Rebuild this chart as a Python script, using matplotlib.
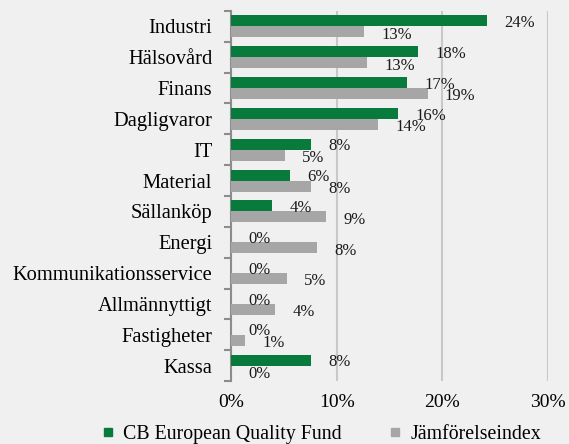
import matplotlib.pyplot as plt
import numpy as np
from matplotlib.lines import Line2D

plt.rcParams['font.family'] = ['Liberation Serif', 'DejaVu Serif']

# Sector weights (%)
sectors = ['Industri', 'Hälsovård', 'Finans', 'Dagligvaror', 'IT', 'Material',
           'Sällanköp', 'Energi', 'Kommunikationsservice', 'Allmännyttigt',
           'Fastigheter', 'Kassa']
fund = [24.2, 17.7, 16.7, 15.8, 7.6, 5.6, 3.9, 0.0, 0.0, 0.0, 0.0, 7.6]
index = [12.6, 12.9, 18.6, 13.9, 5.1, 7.6, 9.0, 8.1, 5.3, 4.2, 1.3, 0.0]
xticks = [0, 10, 20, 30]

green = '#077a3c'
grey = '#a6a6a6'
bg = '#f0f0f0'

fig = plt.figure(figsize=(5.69, 4.44), dpi=100, facecolor=bg)
ax = fig.add_axes([231 / 569, 1 - 381 / 444, (548 - 231) / 569, (381 - 11) / 444])
ax.set_facecolor(bg)

y = np.arange(len(sectors))
h = 0.355
ax.barh(y - h / 2, fund, height=h, color=green, zorder=3)
ax.barh(y + h / 2, index, height=h, color=grey, zorder=3)

# data labels
for i, (f, g) in enumerate(zip(fund, index)):
    ax.annotate(f'{f:.0f}%', (f, i - h / 2), xytext=(12.5, -1.5), textcoords='offset points',
                ha='left', va='center', fontsize=12, color='#1a1a1a')
    ax.annotate(f'{g:.0f}%', (g, i + h / 2), xytext=(12.5, -2), textcoords='offset points',
                ha='left', va='center', fontsize=12, color='#1a1a1a')

ax.set_xlim(0, 30)
ax.set_ylim(len(sectors) - 0.5, -0.5)
ax.set_xticks(xticks)
ax.set_xticklabels([f'{t}%' for t in xticks], fontsize=14)
ax.tick_params(axis='x', length=0, pad=9)
ax.grid(axis='x', color='#c8c8c8', linewidth=1.5, zorder=0)

# y ticks at category boundaries, labels at centres
ax.set_yticks(np.arange(-0.5, len(sectors)), labels=[])
ax.set_yticks(y, labels=sectors, minor=True)
ax.tick_params(axis='y', which='major', length=5, width=1.5, color='#8c8c8c', direction='out')
ax.tick_params(axis='y', which='minor', length=0, pad=13.5, labelsize=14.8)

for s in ['top', 'right', 'bottom']:
    ax.spines[s].set_visible(False)
ax.spines['left'].set_color('#8c8c8c')
ax.spines['left'].set_linewidth(1.5)

handles = [Line2D([], [], linestyle='none', marker='s', markersize=6, color=green),
           Line2D([], [], linestyle='none', marker='s', markersize=6, color=grey)]
fig.legend(handles, ['CB European Quality Fund', 'Jämförelseindex'], loc='center',
           bbox_to_anchor=(0.565, 1 - 434 / 444), ncol=2, frameon=False, fontsize=14.3,
           handlelength=0.6, handletextpad=0.45, columnspacing=2.4, borderaxespad=0)

fig.savefig('out.png', dpi=100, facecolor=bg)
